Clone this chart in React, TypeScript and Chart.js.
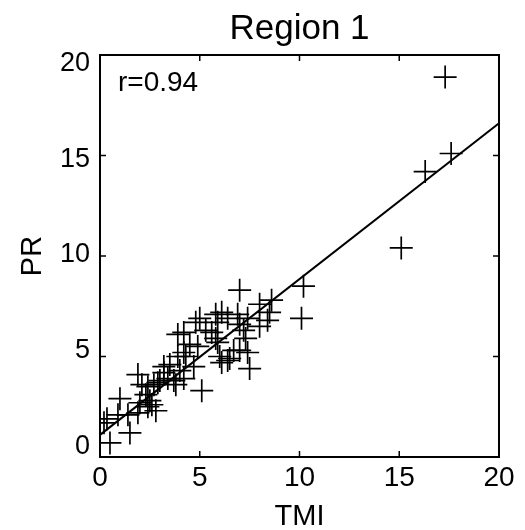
import React, { useEffect, useRef } from "react";
import { Chart, registerables } from "chart.js";

Chart.register(...registerables);

const TITLE = "Region 1";
const X_LABEL = "TMI";
const Y_LABEL = "PR";
const R_LABEL = "r=0.94";

const xTicks = [0, 5, 10, 15, 20];
const yTicks = [0, 5, 10, 15, 20];

const tmi = [
  0.5, 0.2, 1.5, 0.35, 0.9, 1.4, 1.0, 1.9, 2.4, 2.0, 2.6, 2.5, 2.8, 2.3, 2.1, 2.4, 2.9, 3.4,
  3.2, 1.9, 2.7, 3.0, 3.7, 3.8, 4.2, 4.0, 3.2, 3.5, 4.7, 3.9, 4.3, 5.1, 4.2, 4.5, 4.9, 3.9,
  4.2, 4.8, 5.0, 5.3, 5.6, 5.9, 5.8, 6.0, 6.1, 6.5, 6.4, 6.7, 7.0, 7.4, 7.5, 7.3, 7.0, 7.2,
  7.4, 8.0, 8.4, 8.5, 8.6, 8.0, 5.9, 6.1, 6.4, 6.9, 5.8, 7.0, 10.1, 10.2, 15.1, 16.3, 17.6, 17.3,
];
const pr = [
  0.7, 1.7, 1.2, 1.9, 2.1, 2.1, 2.9, 2.2, 2.5, 2.7, 2.6, 2.8, 2.3, 3.1, 3.6, 3.5, 3.7, 3.9,
  4.5, 4.1, 3.6, 3.8, 3.8, 3.6, 3.9, 4.3, 4.2, 4.6, 4.5, 5.0, 5.0, 3.3, 5.2, 5.6, 5.5, 6.1,
  6.2, 6.7, 6.9, 6.3, 6.2, 5.7, 5.9, 5.0, 4.7, 4.9, 4.8, 5.3, 5.3, 5.2, 4.4, 5.9, 6.6, 6.3,
  6.9, 6.5, 6.8, 7.2, 7.8, 7.6, 6.7, 7.2, 6.9, 7.1, 7.1, 8.3, 6.9, 8.5, 10.4, 14.2, 15.1, 18.9,
];

const fitTmi = [0, 20];
const fitPr = [1.1, 16.6];

const FONT = "'Liberation Sans', Arial, Helvetica, sans-serif";

const framePlugin = {
  id: "frameTicks",
  afterDatasetsDraw(chart: any) {
    const { ctx, chartArea, scales } = chart;
    const { left, right, top, bottom } = chartArea;
    ctx.save();
    ctx.strokeStyle = "#000";
    ctx.lineWidth = 2;
    ctx.strokeRect(left, top, right - left, bottom - top);
    ctx.lineWidth = 1.5;
    const tl = 6;
    xTicks.forEach((v) => {
      const px = scales.x.getPixelForValue(v);
      ctx.beginPath();
      ctx.moveTo(px, bottom);
      ctx.lineTo(px, bottom - tl);
      ctx.moveTo(px, top);
      ctx.lineTo(px, top + tl);
      ctx.stroke();
    });
    yTicks.forEach((v) => {
      const py = scales.y.getPixelForValue(v);
      ctx.beginPath();
      ctx.moveTo(left, py);
      ctx.lineTo(left + tl, py);
      ctx.moveTo(right, py);
      ctx.lineTo(right - tl, py);
      ctx.stroke();
    });
    ctx.fillStyle = "#000";
    ctx.font = `28px ${FONT}`;
    ctx.textAlign = "left";
    ctx.textBaseline = "middle";
    ctx.fillText(R_LABEL, scales.x.getPixelForValue(0.9), scales.y.getPixelForValue(18.6));
    ctx.font = `35px ${FONT}`;
    ctx.textAlign = "center";
    ctx.textBaseline = "alphabetic";
    ctx.fillText(TITLE, (left + right) / 2, top - 16);
    ctx.restore();
  },
};

export default function App() {
  const ref = useRef<HTMLCanvasElement>(null);
  useEffect(() => {
    document.body.style.margin = "0";
    const points = tmi.map((x, i) => ({ x, y: pr[i] }));
    const fit = fitTmi.map((x, i) => ({ x, y: fitPr[i] }));
    const chart = new Chart(ref.current!, {
      type: "scatter",
      data: {
        datasets: [
          {
            data: points,
            pointStyle: "cross",
            pointRadius: 11.5,
            pointBorderWidth: 1.7,
            borderColor: "#000",
            backgroundColor: "#000",
          } as any,
          {
            type: "line",
            data: fit,
            borderColor: "#000",
            borderWidth: 2,
            pointRadius: 0,
            fill: false,
          } as any,
        ],
      },
      plugins: [framePlugin],
      options: {
        animation: false,
        responsive: false,
        maintainAspectRatio: false,
        layout: { padding: { left: 0, right: 26, top: 55, bottom: 0 } },
        plugins: {
          legend: { display: false },
          tooltip: { enabled: false },
          title: { display: false },
        },
        scales: {
          x: {
            type: "linear",
            min: 0,
            max: 20,
            afterBuildTicks: (s: any) => {
              s.ticks = xTicks.map((v) => ({ value: v }));
            },
            afterFit: (s: any) => {
              s.height = 73;
            },
            grid: { display: false, drawTicks: false },
            border: { display: false },
            ticks: { color: "#000", font: { family: FONT, size: 28 }, padding: 4 },
            title: {
              display: true,
              text: X_LABEL,
              color: "#000",
              font: { family: FONT, size: 29 },
              padding: { top: 0, bottom: -4 },
            },
          },
          y: {
            type: "linear",
            display: false,
            min: 0,
            max: 20,
          },
          yLabels: {
            type: "linear",
            position: "left",
            min: -0.52,
            max: 20.42,
            afterBuildTicks: (s: any) => {
              s.ticks = yTicks.map((v) => ({ value: v }));
            },
            afterFit: (s: any) => {
              s.width = 100;
            },
            grid: { display: false, drawTicks: false },
            border: { display: false },
            ticks: { color: "#000", font: { family: FONT, size: 27 }, padding: 10 },
            title: {
              display: true,
              text: Y_LABEL,
              color: "#000",
              font: { family: FONT, size: 29 },
              padding: { top: 16, bottom: 0 },
            },
          },
        },
      },
    });
    return () => chart.destroy();
  }, []);
  return (
    <div style={{ position: "absolute", left: 0, top: 0, width: 525, height: 530 }}>
      <canvas ref={ref} width={525} height={530} style={{ width: 525, height: 530 }} />
    </div>
  );
}
